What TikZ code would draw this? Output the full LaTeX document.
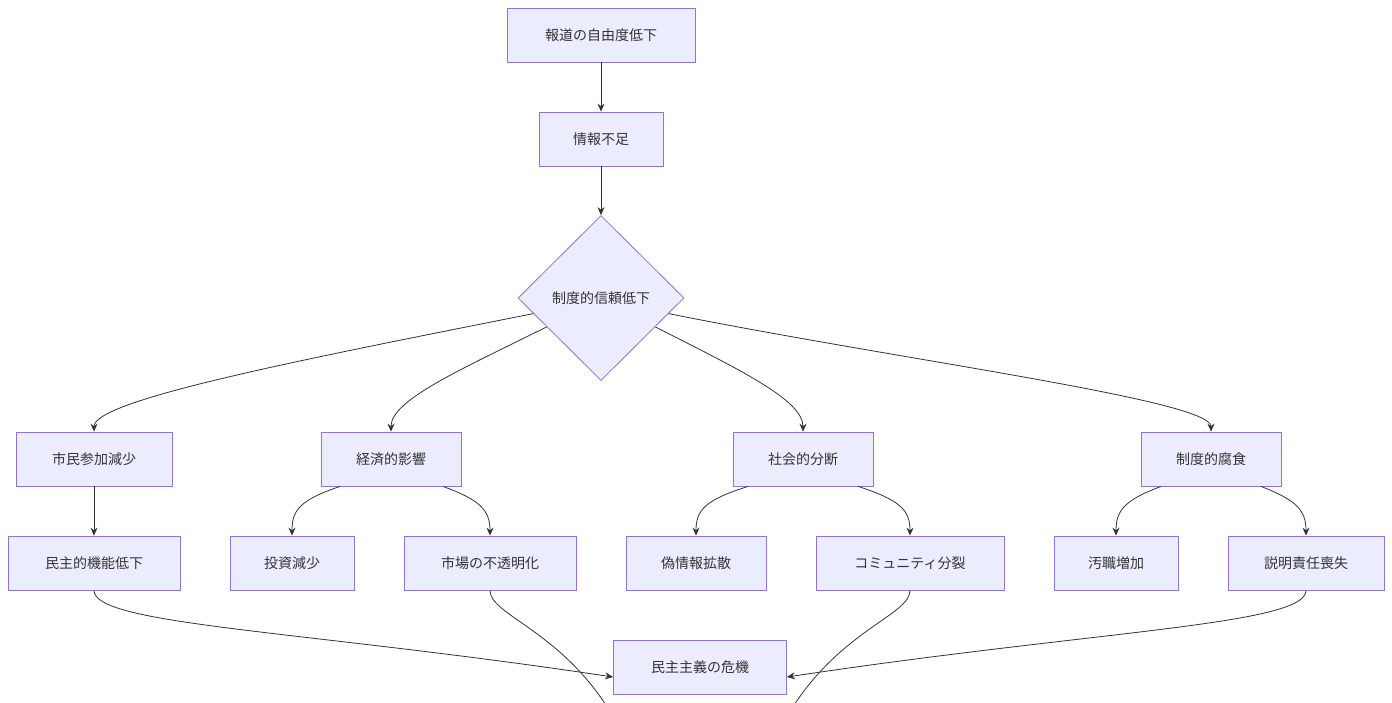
\documentclass[tikz,border=0pt]{standalone}
\usepackage{fontspec}
\setmainfont{Noto Sans CJK JP}
\usetikzlibrary{shapes.geometric,arrows.meta}
\definecolor{nf}{HTML}{ECECFF}\definecolor{ns}{HTML}{9370DB}\definecolor{tx}{HTML}{333333}
\begin{document}
\begin{tikzpicture}[x=1pt,y=-1pt,
 box/.style={draw=ns,fill=nf,text=tx,minimum height=54pt,inner sep=0pt,font=\fontsize{14}{16}\selectfont,line width=0.8pt},
 e/.style={draw=tx,line width=0.8pt,-{Stealth[length=8pt,width=7pt]}}]
\useasboundingbox (0,0) rectangle (1392,702);
\node[box,minimum width=188pt] (A) at (601,35) {報道の自由度低下};
\node[box,minimum width=124pt] (B) at (601,139) {情報不足};
\node[box,diamond,minimum width=166pt,minimum height=165pt] (C) at (601,298) {制度的信頼低下};
\node[box,minimum width=156pt] (D) at (94,459) {市民参加減少};
\node[box,minimum width=140pt] (E) at (391,459) {経済的影響};
\node[box,minimum width=140pt] (F) at (803,459) {社会的分断};
\node[box,minimum width=140pt] (G) at (1211,459) {制度的腐食};
\node[box,minimum width=172pt] (H) at (94,563) {民主的機能低下};
\node[box,minimum width=124pt] (I) at (292,563) {投資減少};
\node[box,minimum width=172pt] (J) at (490,563) {市場の不透明化};
\node[box,minimum width=140pt] (K) at (696,563) {偽情報拡散};
\node[box,minimum width=188pt] (L) at (910,563) {コミュニティ分裂};
\node[box,minimum width=124pt] (M) at (1116,563) {汚職増加};
\node[box,minimum width=156pt] (N) at (1306,563) {説明責任喪失};
\node[box,minimum width=173pt] (O) at (700,667) {民主主義の危機};
\draw[e] (A) -- (B);
\draw[e] (B) -- (C);
\draw[e] (C.193) .. controls (300,360) and (94,400) .. (D.north);
\draw[e] (C.208) .. controls (460,370) and (391,400) .. (E.north);
\draw[e] (C.332) .. controls (740,370) and (803,400) .. (F.north);
\draw[e] (C.347) .. controls (900,360) and (1211,400) .. (G.north);
\draw[e] (D) -- (H);
\draw[e] ([xshift=-51pt]E.south) .. controls (300,500) and (292,510) .. (I.north);
\draw[e] ([xshift=52pt]E.south) .. controls (480,500) and (490,510) .. (J.north);
\draw[e] ([xshift=-55pt]F.south) .. controls (705,500) and (696,510) .. (K.north);
\draw[e] ([xshift=55pt]F.south) .. controls (900,500) and (910,510) .. (L.north);
\draw[e] ([xshift=-50pt]G.south) .. controls (1125,500) and (1116,510) .. (M.north);
\draw[e] ([xshift=50pt]G.south) .. controls (1296,500) and (1306,510) .. (N.north);
\draw[e] (H.south) .. controls (94,625) and (300,630) .. ([yshift=-10pt]O.west);
\draw[e] (J.south) .. controls (490,615) and (560,630) .. ([yshift=-22pt]O.south west);
\draw[e] (L.south) .. controls (910,615) and (840,630) .. ([yshift=-22pt]O.south east);
\draw[e] (N.south) .. controls (1306,625) and (1100,630) .. ([yshift=-10pt]O.east);
\end{tikzpicture}
\end{document}
